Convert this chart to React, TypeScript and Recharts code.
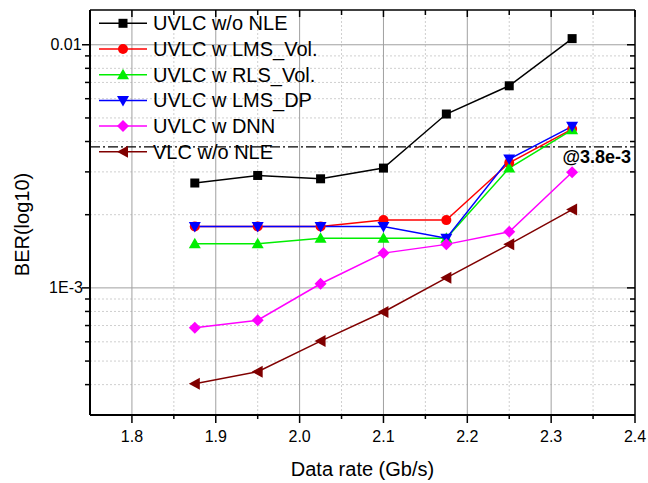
import React from 'react';
import { LineChart, Line, XAxis, YAxis, ReferenceLine } from 'recharts';

// ---- data ----
const rates = [1.875, 1.95, 2.025, 2.1, 2.175, 2.25, 2.325];
const uvlcNoNle = [2.7e-3, 2.9e-3, 2.81e-3, 3.11e-3, 5.19e-3, 6.78e-3, 1.06e-2];
const uvlcLmsVol = [1.79e-3, 1.79e-3, 1.79e-3, 1.9e-3, 1.9e-3, 3.27e-3, 4.5e-3];
const uvlcRlsVol = [1.52e-3, 1.52e-3, 1.6e-3, 1.6e-3, 1.6e-3, 3.11e-3, 4.47e-3];
const uvlcLmsDp = [1.79e-3, 1.79e-3, 1.79e-3, 1.79e-3, 1.6e-3, 3.39e-3, 4.62e-3];
const uvlcDnn = [6.85e-4, 7.36e-4, 1.04e-3, 1.39e-3, 1.51e-3, 1.7e-3, 2.99e-3];
const vlcNoNle = [4.03e-4, 4.52e-4, 6.04e-4, 7.96e-4, 1.1e-3, 1.51e-3, 2.1e-3];

const seriesNames = [
  'UVLC w/o NLE',
  'UVLC w LMS_Vol.',
  'UVLC w RLS_Vol.',
  'UVLC w LMS_DP',
  'UVLC w DNN',
  'VLC w/o NLE',
];
const seriesValues = [uvlcNoNle, uvlcLmsVol, uvlcRlsVol, uvlcLmsDp, uvlcDnn, vlcNoNle];
const seriesColors = ['#000000', '#ff0000', '#00ee00', '#0000ff', '#ff00ff', '#800000'];
const seriesMarkers = ['square', 'circle', 'up', 'down', 'diamond', 'left'];

const xDomain = [1.75, 2.4];
const xTicks = [1.8, 1.85, 1.9, 1.95, 2.0, 2.05, 2.1, 2.15, 2.2, 2.25, 2.3, 2.35, 2.4];
const xMajorGrid = [1.8, 1.9, 2.0, 2.1, 2.2, 2.3];
const xMinorGrid = [1.85, 1.95, 2.05, 2.15, 2.25, 2.35];

const yDomain = [3.0e-4, 1.39e-2];
const yTicks = [4e-4, 5e-4, 6e-4, 7e-4, 8e-4, 9e-4, 1e-3, 2e-3, 3e-3, 4e-3, 5e-3, 6e-3, 7e-3, 8e-3, 9e-3, 1e-2];
const yMajorGrid = [1e-3, 1e-2];
const yMinorGrid = [4e-4, 5e-4, 6e-4, 7e-4, 8e-4, 9e-4, 2e-3, 3e-3, 4e-3, 5e-3, 6e-3, 7e-3, 8e-3, 9e-3];
const yLabels: Record<string, string> = { '0.01': '0.01', '0.001': '1E-3' };

const threshold = 3.8e-3;
const thresholdLabel = '@3.8e-3';

const xTitle = 'Data rate (Gb/s)';
const yTitle = 'BER(log10)';

const data = rates.map((r, i) => {
  const row: Record<string, number> = { rate: r };
  seriesValues.forEach((vals, k) => {
    row['s' + k] = vals[i];
  });
  return row;
});

const FONT = '"Liberation Sans", Arial, Helvetica, sans-serif';

const isMajorX = (v: number) => Math.abs(v * 10 - Math.round(v * 10)) < 1e-6;
const isMajorY = (v: number) => {
  const l = Math.log10(v);
  return Math.abs(l - Math.round(l)) < 1e-6;
};

function Marker({ kind, cx, cy, color }: { kind: string; cx: number; cy: number; color: string }) {
  if (cx == null || cy == null || isNaN(cx) || isNaN(cy)) return null;
  switch (kind) {
    case 'square':
      return <rect x={cx - 4.5} y={cy - 4.5} width={9} height={9} fill={color} />;
    case 'circle':
      return <circle cx={cx} cy={cy} r={5} fill={color} />;
    case 'up':
      return <polygon points={`${cx},${cy - 6} ${cx + 6},${cy + 4.5} ${cx - 6},${cy + 4.5}`} fill={color} />;
    case 'down':
      return <polygon points={`${cx - 6},${cy - 4.5} ${cx + 6},${cy - 4.5} ${cx},${cy + 6}`} fill={color} />;
    case 'diamond':
      return <polygon points={`${cx},${cy - 6} ${cx + 6},${cy} ${cx},${cy + 6} ${cx - 6},${cy}`} fill={color} />;
    case 'left':
      return <polygon points={`${cx - 6},${cy} ${cx + 5},${cy - 6} ${cx + 5},${cy + 6}`} fill={color} />;
    default:
      return null;
  }
}

const BottomTick = (props: any) => {
  const { x, y, payload } = props;
  const v = payload.value as number;
  const major = isMajorX(v);
  return (
    <g>
      <line x1={x} x2={x} y1={y} y2={y + (major ? 8 : 4)} stroke="#000" strokeWidth={1.5} />
      {major && (
        <text x={x} y={y + 27} textAnchor="middle" fontSize={16} fontFamily={FONT} fill="#000">
          {v.toFixed(1)}
        </text>
      )}
    </g>
  );
};

const TopTick = (props: any) => {
  const { x, y, payload } = props;
  const major = isMajorX(payload.value);
  return <line x1={x} x2={x} y1={y} y2={y + (major ? 7 : 5)} stroke="#000" strokeWidth={1.5} />;
};

const LeftTick = (props: any) => {
  const { x, y, payload } = props;
  const v = payload.value as number;
  const major = isMajorY(v);
  const label = yLabels[String(v)];
  return (
    <g>
      <line x1={x - (major ? 8 : 5)} x2={x} y1={y} y2={y} stroke="#000" strokeWidth={1.5} />
      {label && (
        <text x={x - 24} y={y} dy="0.35em" textAnchor="middle" fontSize={16} fontFamily={FONT} fill="#000">
          {label}
        </text>
      )}
    </g>
  );
};

const RightTick = (props: any) => {
  const { x, y, payload } = props;
  const major = isMajorY(payload.value);
  return <line x1={x - (major ? 8 : 5)} x2={x} y1={y} y2={y} stroke="#000" strokeWidth={1.5} />;
};

function LegendBox() {
  return (
    <svg
      width={420}
      height={170}
      style={{ position: 'absolute', left: 0, top: 0, pointerEvents: 'none', overflow: 'visible' }}
    >
      {seriesNames.map((name, i) => {
        const cy = 15.3 + i * 25.7;
        return (
          <g key={name}>
            <line x1={91} x2={139} y1={cy} y2={cy} stroke={seriesColors[i]} strokeWidth={1.5} />
            <Marker kind={seriesMarkers[i]} cx={115} cy={cy} color={seriesColors[i]} />
            <text x={145} y={cy} dy="0.35em" fontSize={20} fontFamily={FONT} fill="#000">
              {name}
            </text>
          </g>
        );
      })}
    </svg>
  );
}

export default function App() {
  return (
    <div style={{ position: 'absolute', left: 8, top: 8, width: 640, height: 475, background: '#fff' }}>
      <LineChart
        width={640}
        height={475}
        data={data}
        margin={{ top: 1, right: 12, bottom: 0, left: 0 }}
      >
        <XAxis
          xAxisId="b"
          dataKey="rate"
          type="number"
          domain={xDomain}
          ticks={xTicks}
          interval={0}
          allowDataOverflow
          height={68}
          tickSize={0}
          tickMargin={0}
          tickLine={false}
          axisLine={{ stroke: '#000', strokeWidth: 2 }}
          tick={BottomTick}
          label={{
            content: (p: any) => {
              const vb = p.viewBox;
              return (
                <text
                  x={vb.x + vb.width / 2}
                  y={vb.y + 61}
                  textAnchor="middle"
                  fontSize={20}
                  fontFamily={FONT}
                  fill="#000"
                >
                  {xTitle}
                </text>
              );
            },
          }}
        />
        <XAxis
          xAxisId="t"
          orientation="top"
          dataKey="rate"
          type="number"
          domain={xDomain}
          ticks={xTicks}
          interval={0}
          allowDataOverflow
          height={1}
          tickSize={0}
          tickMargin={0}
          tickLine={false}
          axisLine={{ stroke: '#000', strokeWidth: 1.5 }}
          tick={TopTick}
        />
        <YAxis
          yAxisId="l"
          type="number"
          scale="log"
          domain={yDomain}
          ticks={yTicks}
          interval={0}
          allowDataOverflow
          width={82}
          tickSize={0}
          tickMargin={0}
          tickLine={false}
          axisLine={{ stroke: '#000', strokeWidth: 2 }}
          tick={LeftTick}
          label={{
            content: (p: any) => {
              const vb = p.viewBox;
              const cx = vb.x + 14;
              const cy = vb.y + vb.height / 2 + 12;
              return (
                <text
                  x={cx}
                  y={cy}
                  dy="0.35em"
                  textAnchor="middle"
                  transform={`rotate(-90, ${cx}, ${cy})`}
                  fontSize={20}
                  fontFamily={FONT}
                  fill="#000"
                >
                  {yTitle}
                </text>
              );
            },
          }}
        />
        <YAxis
          yAxisId="r"
          orientation="right"
          type="number"
          scale="log"
          domain={yDomain}
          ticks={yTicks}
          interval={0}
          allowDataOverflow
          width={1}
          tickSize={0}
          tickMargin={0}
          tickLine={false}
          axisLine={{ stroke: '#000', strokeWidth: 1.5 }}
          tick={RightTick}
        />

        {xMinorGrid.map((v) => (
          <ReferenceLine
            key={'xm' + v}
            xAxisId="b"
            yAxisId="l"
            x={v}
            stroke="#cfcfcf"
            strokeWidth={1}
            strokeDasharray="2 2"
          />
        ))}
        {yMinorGrid.map((v) => (
          <ReferenceLine
            key={'ym' + v}
            xAxisId="b"
            yAxisId="l"
            y={v}
            stroke="#cfcfcf"
            strokeWidth={1}
            strokeDasharray="2 2"
          />
        ))}
        {xMajorGrid.map((v) => (
          <ReferenceLine key={'xM' + v} xAxisId="b" yAxisId="l" x={v} stroke="#a0a0a0" strokeWidth={1} />
        ))}
        {yMajorGrid.map((v) => (
          <ReferenceLine key={'yM' + v} xAxisId="b" yAxisId="l" y={v} stroke="#a0a0a0" strokeWidth={1} />
        ))}
        <ReferenceLine
          xAxisId="b"
          yAxisId="l"
          y={threshold}
          stroke="#000"
          strokeWidth={1.3}
          strokeDasharray="10 3 2 3"
          label={{
            content: (p: any) => {
              const vb = p.viewBox;
              return (
                <text
                  x={vb.x + vb.width - 4}
                  y={vb.y + 16.5}
                  textAnchor="end"
                  fontSize={18}
                  fontWeight="bold"
                  fontFamily={FONT}
                  fill="#000"
                >
                  {thresholdLabel}
                </text>
              );
            },
          }}
        />

        {seriesNames.map((name, k) => (
          <Line
            key={name}
            xAxisId="b"
            yAxisId="l"
            dataKey={'s' + k}
            name={name}
            stroke={seriesColors[k]}
            strokeWidth={1.5}
            isAnimationActive={false}
            dot={(p: any) => (
              <Marker key={'d' + k + '-' + p.index} kind={seriesMarkers[k]} cx={p.cx} cy={p.cy} color={seriesColors[k]} />
            )}
            activeDot={false}
          />
        ))}
      </LineChart>
      <LegendBox />
    </div>
  );
}
